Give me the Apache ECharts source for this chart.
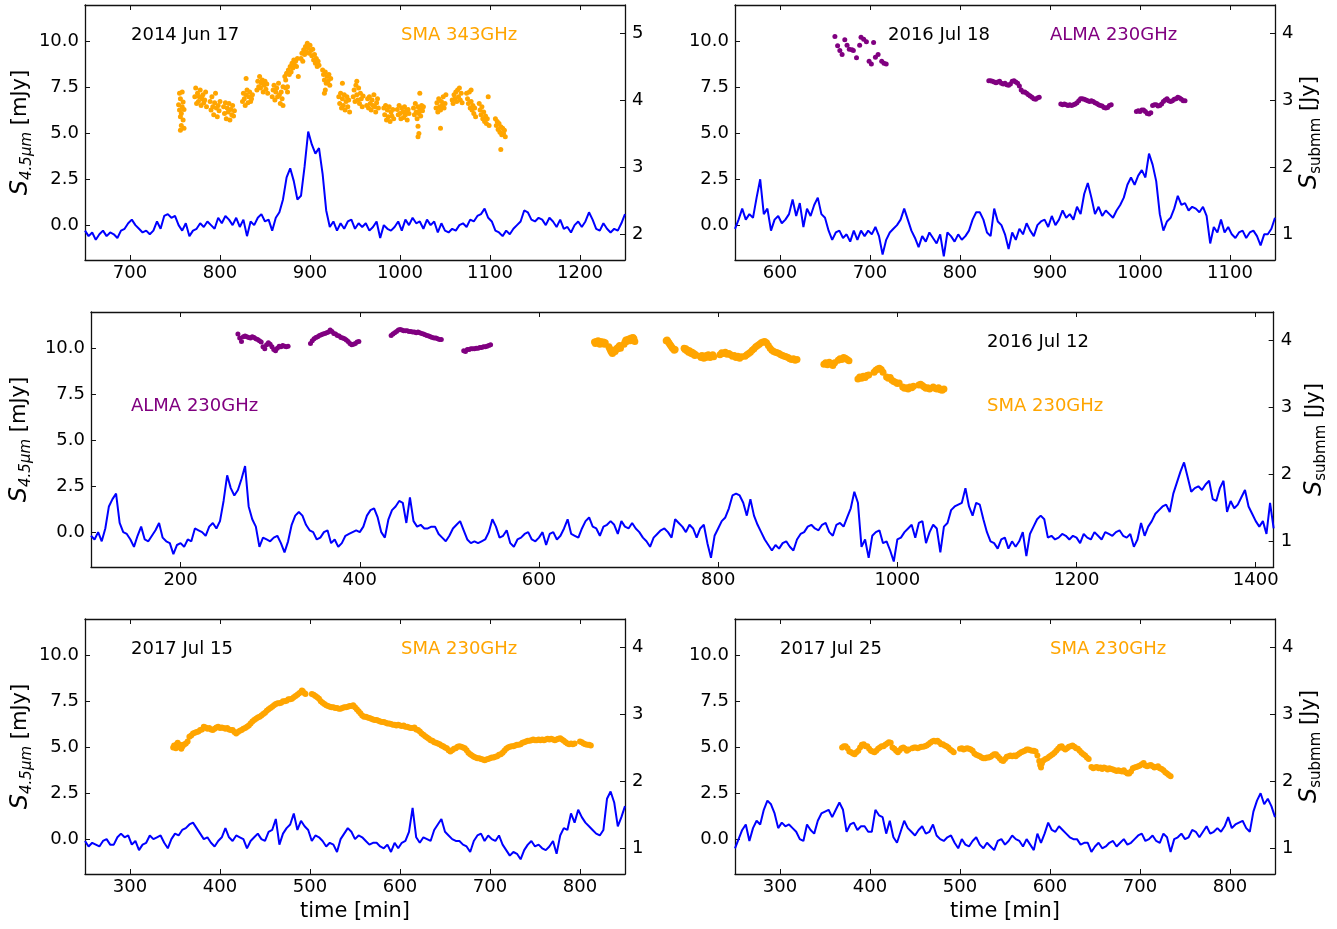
<!DOCTYPE html>
<html><head><meta charset="utf-8">
<script src="https://cdn.jsdelivr.net/npm/echarts@6/dist/echarts.min.js"></script>
<style>html,body{margin:0;padding:0;background:#fff}#c{width:1337px;height:929px}</style>
</head><body><div id="c"></div>
<script>
// ---------------- DATA ----------------
// IR (4.5 micron) light curves, mJy, regular 4-min sampling: [start, step]
const p1IrStart = 650, p1IrStep = 4;
const p1Ir = [-0.3,-0.6,-0.4,-0.8,-0.5,-0.3,-0.6,-0.4,-0.5,-0.7,
-0.3,-0.2,0.1,0.3,0.0,-0.2,-0.4,-0.3,-0.5,-0.3,
0.2,-0.2,0.5,0.6,0.4,0.5,0.0,-0.3,0.1,-0.6,
-0.3,-0.2,0.1,-0.1,0.2,0.0,-0.2,0.4,0.1,0.5,
0.3,0.0,0.4,-0.1,0.3,-0.6,0.2,0.0,0.4,0.6,
0.2,0.3,-0.3,0.4,0.7,1.4,2.6,3.1,2.4,1.4,
1.6,3.2,5.1,4.4,3.9,4.2,2.8,0.8,-0.1,0.2,
-0.3,0.1,-0.2,0.2,0.3,-0.2,0.1,-0.1,0.1,-0.3,
-0.1,0.2,-0.7,0.0,-0.2,-0.3,-0.1,0.2,-0.3,0.3,
0.0,0.4,0.1,0.2,-0.2,0.3,0.0,0.2,-0.4,0.1,
-0.3,-0.4,-0.2,-0.3,0.0,0.1,-0.1,0.3,0.2,0.5,
0.6,0.9,0.4,0.2,-0.3,-0.4,-0.6,-0.3,-0.5,-0.2,
0.0,0.2,0.8,0.7,0.3,0.2,0.4,0.3,0.0,0.4,
0.2,-0.1,0.3,-0.2,-0.1,-0.4,0.0,0.2,-0.1,0.2,
0.7,0.3,-0.2,-0.3,0.1,-0.2,-0.4,-0.2,-0.3,0.1,
0.6];

const p2IrStart = 550, p2IrStep = 4;
const p2Ir = [-0.2,0.3,0.9,0.3,0.6,0.4,1.5,2.5,0.6,0.9,
-0.3,0.3,0.5,0.1,0.3,0.6,1.4,0.5,1.2,-0.1,
0.9,0.5,1.1,1.5,0.6,0.4,-0.3,-0.8,-0.4,-0.3,
-0.7,-0.5,-0.9,-0.3,-0.8,-0.3,-0.6,-0.3,-0.5,-0.1,
-0.6,-1.6,-0.8,-0.4,-0.2,0.0,0.3,0.9,0.3,-0.3,
-0.7,-1.2,-0.6,-0.9,-0.4,-0.7,-1.0,-0.5,-1.7,-0.4,
-0.6,-0.9,-0.5,-0.8,-0.6,-0.3,0.3,0.7,0.7,0.3,
-0.4,-0.6,0.9,0.2,0.0,-0.5,-1.3,-0.4,-0.8,-0.2,
-0.5,0.1,-0.3,-0.6,0.0,0.2,0.3,-0.1,0.5,0.0,
0.3,0.8,0.4,0.6,0.3,1.0,0.6,1.7,2.3,1.5,
0.6,1.0,0.5,0.8,0.6,0.4,0.8,1.1,1.5,2.2,
2.6,2.2,2.7,3.0,2.6,3.9,3.3,2.4,0.6,-0.3,
0.2,0.4,0.9,1.6,1.1,1.2,0.8,1.0,0.9,0.7,
1.0,0.5,-1.0,-0.1,-0.4,0.3,-0.4,-0.1,-0.5,-0.7,
-0.4,-0.3,-0.7,-0.4,-0.3,-0.6,-1.1,-0.5,-0.5,-0.2,
0.4];

const p3IrStart = 100, p3IrStep = 4;
const p3Ir = [-0.2,-0.4,0.0,-0.5,0.2,1.4,1.8,2.1,0.5,0.0,
-0.1,-0.4,-0.8,-0.2,0.3,-0.4,-0.5,-0.2,0.1,0.5,
-0.3,-0.5,-0.6,-1.2,-0.7,-0.6,-0.8,-0.4,-0.5,0.2,
0.1,0.0,-0.2,0.3,0.5,0.2,0.6,1.7,3.1,2.4,
2.0,2.3,2.9,3.6,1.4,0.7,0.3,-0.8,-0.3,-0.4,
-0.5,-0.3,-0.2,-0.6,-1.1,-0.5,0.4,0.9,1.1,0.9,
0.4,0.1,0.0,-0.4,-0.3,0.0,0.1,-0.6,-0.4,-0.8,
-0.6,-0.2,-0.1,0.0,0.1,0.0,0.3,0.9,1.2,1.3,
0.8,0.0,-0.3,0.7,1.2,1.4,1.7,1.6,0.5,1.9,
0.6,0.3,0.4,0.2,0.2,0.3,0.3,-0.1,-0.3,-0.5,
-0.2,0.2,0.4,0.6,0.1,-0.4,-0.6,-0.5,-0.6,-0.5,
-0.4,0.0,0.7,0.3,-0.3,-0.2,0.1,-0.6,-0.8,-0.4,
-0.3,-0.1,0.0,-0.4,-0.5,-0.3,0.0,-0.7,-0.1,0.0,
-0.4,-0.2,0.2,0.7,-0.1,-0.2,-0.3,0.2,0.6,0.8,
0.3,0.2,-0.2,0.3,0.4,0.6,0.4,-0.1,0.6,0.3,
0.2,0.5,0.2,0.0,-0.3,-0.5,-0.8,-0.3,-0.1,0.1,
0.2,0.0,-0.3,0.7,0.5,0.3,0.0,0.4,0.2,-0.3,
0.2,0.4,-0.6,-1.4,-0.2,0.2,0.6,0.8,1.3,2.0,
2.1,2.0,1.6,0.9,1.8,0.9,0.4,0.0,-0.4,-0.7,
-1.0,-0.7,-0.9,-0.6,-0.5,-0.8,-1.0,-0.4,-0.1,0.0,
0.3,0.4,0.2,0.1,0.4,0.5,0.0,-0.2,0.4,0.5,
0.3,0.8,1.3,2.2,1.6,-0.8,-0.4,-1.4,-0.2,0.0,
0.1,-0.6,-0.5,-1.0,-1.6,-0.4,-0.3,0.0,0.2,0.4,
-0.3,0.5,0.6,-0.6,0.0,0.4,0.2,-1.1,0.3,0.5,
1.2,1.4,1.5,1.6,2.4,1.4,0.9,1.6,1.5,0.7,
0.0,-0.5,-0.6,-0.9,-0.4,-0.3,-0.9,-0.5,-0.8,-0.5,
0.0,-1.3,-0.1,0.3,0.7,0.9,0.7,-0.3,-0.2,-0.4,
-0.3,-0.1,-0.2,-0.4,-0.2,-0.3,-0.6,-0.1,-0.3,-0.4,
0.0,-0.2,-0.4,0.0,-0.1,-0.2,0.0,0.1,-0.2,-0.3,
-0.1,-0.8,-0.4,0.5,-0.2,0.3,0.6,1.0,1.2,1.4,
1.5,1.1,2.1,2.7,3.3,3.8,3.0,2.2,2.4,2.5,
2.3,2.6,2.8,1.8,1.7,2.4,2.8,1.1,1.7,1.3,
1.5,1.9,2.3,1.4,1.0,0.6,0.3,0.6,-0.1,1.6,
0.2];

const p4IrStart = 250, p4IrStep = 4;
const p4Ir = [-0.1,-0.4,-0.2,-0.3,-0.4,-0.1,0.0,-0.3,-0.3,0.1,
0.3,0.1,0.2,-0.3,-0.1,-0.6,-0.3,-0.2,0.2,0.0,
0.1,0.2,-0.2,-0.5,0.0,0.3,0.2,0.5,0.6,0.8,
0.9,0.6,0.3,0.0,0.1,-0.2,-0.4,-0.1,0.1,0.6,
0.1,-0.1,0.2,0.1,0.0,-0.5,-0.1,0.1,0.3,0.0,
-0.1,0.4,0.5,1.1,-0.3,0.3,0.6,0.8,1.4,0.5,
1.0,0.7,0.5,-0.1,0.2,0.1,-0.1,-0.4,-0.2,-0.3,
-0.7,0.0,0.3,0.6,0.4,0.0,0.2,0.1,-0.1,-0.3,
-0.2,-0.2,-0.4,-0.5,-0.3,-0.7,-0.2,-0.5,-0.2,-0.1,
0.4,1.7,0.1,-0.2,0.1,0.0,-0.1,0.5,0.8,1.1,
0.4,0.2,0.0,-0.1,-0.1,-0.3,-0.4,-0.7,-0.1,0.2,
0.3,-0.1,0.2,0.0,-0.1,0.2,-0.3,-0.6,-0.9,-0.7,
-0.8,-1.1,-0.6,-0.3,-0.1,-0.4,-0.3,-0.5,-0.6,-0.4,
-0.1,-0.8,0.2,0.6,0.5,1.4,0.9,1.6,1.2,0.9,
0.7,0.5,0.3,0.2,0.5,2.2,2.6,2.0,0.7,1.2,
1.8];

const p5IrStart = 250, p5IrStep = 4;
const p5Ir = [-0.5,0.0,0.5,0.8,-0.1,0.6,1.0,0.8,1.6,2.1,
1.9,1.4,0.6,0.9,0.7,0.8,0.6,0.4,0.0,-0.1,
0.8,0.5,0.3,1.0,1.4,1.5,1.6,1.2,1.6,2.0,
1.6,0.4,0.8,0.9,0.5,0.7,0.7,0.4,0.4,1.6,
1.3,1.2,0.3,1.0,0.1,-0.2,0.4,1.0,0.6,0.4,
0.2,0.5,0.7,0.3,0.4,0.8,0.2,0.0,-0.1,0.1,
0.2,-0.2,-0.5,0.0,-0.3,-0.4,-0.1,0.1,-0.3,-0.5,
-0.2,-0.4,-0.6,-0.1,0.0,-0.3,-0.1,0.2,0.0,-0.1,
-0.4,0.0,-0.3,-0.6,0.3,-0.2,0.3,0.9,0.5,0.4,
0.7,0.5,0.3,0.1,0.0,0.0,-0.3,-0.2,-0.2,-0.7,
-0.4,-0.2,-0.5,-0.4,-0.2,-0.1,-0.4,-0.2,0.0,-0.3,
-0.2,0.0,0.2,0.3,-0.1,0.0,0.2,-0.1,-0.2,0.3,
0.1,-0.7,0.0,0.1,0.3,0.0,0.1,0.5,0.4,0.1,
0.4,0.7,0.3,0.4,0.6,0.4,0.7,1.2,0.6,0.8,
0.9,1.0,0.6,0.4,1.5,2.1,2.5,1.9,2.2,1.8,
1.2];

// Submm fluxes, Jy: [time min, flux]
const p1Sma343 = [
[754,3.93],[755,3.85],[755,4.10],[756,3.75],[756,4.02],[757,3.80],[757,3.62],[758,3.90],[758,4.12],[759,3.70],[759,3.97],[760,3.86],[760,3.58],[756,3.55],
[772,4.05],[773,4.18],[774,3.95],[775,4.10],[776,3.98],[777,4.05],[778,4.15],[779,3.92],[780,4.02],[781,4.08],[782,3.96],[783,4.00],[784,4.12],[785,3.90],
[789,3.98],[790,3.85],[791,4.05],[792,3.90],[793,3.78],[794,3.96],[795,4.10],[796,3.88],[797,3.75],[798,3.92],[799,3.84],[800,3.98],
[804,3.90],[805,3.80],[806,3.96],[807,3.72],[808,3.88],[809,3.82],[810,3.95],[811,3.70],[812,3.86],[813,3.78],[814,3.92],[815,3.76],[816,3.84],
[825,3.98],[826,4.10],[827,4.02],[828,3.92],[829,4.08],[830,4.15],[831,3.96],[832,4.05],[833,4.12],[834,3.98],[835,4.02],[836,4.08],[829,4.32],
[841,4.15],[842,4.28],[843,4.20],[844,4.35],[845,4.18],[846,4.25],[847,4.30],[848,4.12],[849,4.22],[850,4.28],[851,4.16],[852,4.24],[853,4.10],
[858,4.05],[859,4.15],[860,4.22],[861,4.00],[862,4.12],[863,4.18],[864,4.05],[865,4.25],[866,4.08],[867,3.95],[868,4.12],[869,4.02],[870,4.20],[870,3.92],
[872,4.35],[873,4.30],[874,4.40],[875,4.20],[876,4.45],[877,4.38],[878,4.50],[879,4.42],[880,4.55],[881,4.48],[882,4.60],[883,4.52],[884,4.58],[885,4.50],[886,4.62],[873,4.18],[875,4.12],[887,4.35],
[890,4.62],[891,4.70],[892,4.58],[893,4.75],[894,4.68],[895,4.80],[896,4.72],[897,4.85],[898,4.78],[899,4.70],[900,4.82],[901,4.74],[902,4.66],[903,4.76],[904,4.60],[905,4.68],[906,4.55],[907,4.62],[908,4.50],[909,4.58],[910,4.52],
[914,4.45],[915,4.38],[916,4.30],[917,4.42],[918,4.25],[919,4.35],[920,4.28],[921,4.38],[922,4.22],[923,4.32],[917,4.15],[916,4.10],
[932,4.05],[933,3.95],[934,4.10],[935,3.88],[936,4.02],[937,3.92],[938,4.08],[939,3.85],[940,3.98],[941,4.05],[942,3.90],[943,4.00],[944,3.82],[936,4.25],
[948,4.05],[949,4.15],[950,3.98],[951,4.22],[952,4.08],[953,4.00],[954,4.18],[955,3.95],[956,4.10],[957,4.02],[958,3.90],[959,4.06],[952,4.28],
[963,3.92],[964,4.02],[965,3.88],[966,4.05],[967,3.95],[968,3.85],[969,4.00],[970,3.92],[971,4.08],[972,3.90],[973,3.82],[974,3.96],[975,4.02],[976,3.88],
[982,3.88],[983,3.78],[984,3.92],[985,3.70],[986,3.85],[987,3.75],[988,3.90],[989,3.68],[990,3.82],[991,3.76],[992,3.86],[993,3.72],
[997,3.86],[998,3.78],[999,3.92],[1000,3.80],[1001,3.72],[1002,3.88],[1003,3.82],[1004,3.74],[1005,3.90],[1006,3.78],[1007,3.84],[1008,3.70],[1009,3.86],[1010,3.80],
[1015,3.88],[1016,3.78],[1017,3.95],[1018,3.82],[1019,3.72],[1020,3.90],[1021,3.80],[1022,3.86],[1023,3.76],[1024,3.92],[1025,3.84],[1026,3.90],[1020,3.61],[1021,3.50],[1020,3.45],[1022,4.10],
[1040,3.88],[1041,3.96],[1042,3.82],[1043,4.02],[1044,3.90],[1045,3.85],[1046,3.98],[1047,3.92],[1048,4.05],[1049,3.88],[1050,3.95],[1051,4.08],[1045,3.58],
[1058,4.00],[1059,3.95],[1060,4.08],[1061,4.02],[1062,4.12],[1063,3.98],[1064,4.15],[1065,4.05],[1066,4.18],[1067,4.00],[1068,4.10],[1069,3.96],
[1074,4.10],[1075,4.02],[1076,3.95],[1077,4.12],[1078,3.88],[1079,3.98],[1080,3.85],[1081,3.92],[1082,3.80],[1083,3.88],[1084,3.75],[1079,4.15],
[1088,3.95],[1089,3.85],[1090,3.78],[1091,3.90],[1092,3.72],[1093,3.82],[1094,3.68],[1095,3.76],[1096,3.65],[1097,3.72],[1098,4.05],[1099,3.62],
[1106,3.72],[1107,3.62],[1108,3.68],[1109,3.56],[1110,3.65],[1111,3.52],[1112,3.60],[1113,3.48],[1114,3.58],[1115,3.50],[1116,3.55],[1117,3.45],[1112,3.26]];

const p2Alma = [
[661,3.95],[664,3.81],[666.5,3.74],[669,3.68],[672,3.90],[674.5,3.82],[677,3.76],[680,3.75],[681.5,3.74],[685,3.63],[688.5,3.82],[690,3.94],[693,3.91],[696,3.87],[699,3.58],[701.5,3.54],[704,3.86],[706,3.64],[709,3.68],[713,3.58],[715.5,3.55],[718,3.54],
[832,3.29],[834,3.29],[836,3.28],[838,3.27],[840,3.26],[842,3.27],[844,3.28],[846,3.25],[848,3.24],[850,3.25],[852,3.23],[854,3.22],[856,3.24],[858,3.28],[860,3.29],[862,3.27],[864,3.25],[866,3.21],[868,3.15],[870,3.12],[872,3.12],[874,3.10],[876,3.08],[878,3.06],[880,3.04],[882,3.02],[884,3.01],[886,3.03],[888,3.04],
[912,2.94],[914,2.93],[916,2.94],[918,2.93],[920,2.92],[922,2.93],[924,2.92],[926,2.93],[928,2.94],[930,2.96],[932,2.99],[934,3.02],[936,3.02],[938,3.01],[940,3.00],[942,2.99],[944,2.98],[946,2.99],[948,2.98],[950,2.96],[952,2.95],[954,2.93],[956,2.92],[958,2.91],[960,2.89],[962,2.88],[964,2.89],[966,2.92],[968,2.93],
[996,2.83],[998,2.84],[1000,2.83],[1002,2.85],[1004,2.85],[1006,2.83],[1008,2.80],[1010,2.79],[1012,2.81],[1014,2.92],[1016,2.93],[1018,2.93],[1020,2.91],[1022,2.92],[1024,2.94],[1026,2.98],[1028,3.00],[1030,3.02],[1032,2.99],[1034,2.98],[1036,2.99],[1038,3.01],[1040,3.02],[1042,3.04],[1044,3.03],[1046,3.01],[1048,2.99],[1050,2.99]];

const p3Alma = [
[264,4.09],[266,4.03],[268,3.98],[270,4.05],[272,4.06],[274,4.05],[276,4.04],[278,4.03],[280,4.05],[282,4.04],[284,4.02],[286,4.01],[288,3.99],[290,3.97],[292,3.90],[294,3.87],[296,3.93],[298,3.96],[300,3.94],[302,3.90],[304,3.86],[306,3.84],[308,3.88],[310,3.91],[312,3.90],[314,3.92],[316,3.91],[318,3.90],[320,3.91],
[345,3.95],[347,3.99],[349,4.02],[351,4.04],[353,4.05],[355,4.07],[357,4.08],[359,4.09],[361,4.10],[363,4.11],[365,4.12],[367,4.15],[369,4.13],[371,4.10],[373,4.09],[375,4.07],[377,4.06],[379,4.04],[381,4.03],[383,4.02],[385,4.00],[387,3.98],[389,3.95],[391,3.93],[393,3.94],[395,3.95],[397,3.97],[399,3.98],
[435,4.07],[437,4.09],[439,4.11],[441,4.13],[443,4.15],[445,4.16],[447,4.15],[449,4.14],[451,4.14],[453,4.14],[455,4.13],[457,4.13],[459,4.12],[461,4.12],[463,4.11],[465,4.12],[467,4.11],[469,4.10],[471,4.09],[473,4.08],[475,4.07],[477,4.06],[479,4.05],[481,4.04],[483,4.03],[485,4.03],[487,4.02],[489,4.01],[491,4.01],
[516,3.84],[518,3.83],[520,3.86],[522,3.86],[524,3.87],[526,3.87],[528,3.87],[530,3.88],[532,3.88],[534,3.89],[536,3.89],[538,3.90],[540,3.90],[542,3.91],[544,3.92],[546,3.93]];

const p3Sma = [
[662,3.97],[663,3.95],[664,3.98],[665,3.96],[666,3.99],[667,3.97],[668,3.94],[669,3.98],[670,3.96],[671,3.95],[672,3.97],[673,3.94],[674,3.96],
[678,3.90],[679,3.87],[680,3.84],[681,3.82],[682,3.80],[683,3.82],[684,3.85],[685,3.83],[686,3.86],[687,3.88],[688,3.87],[689,3.90],[690,3.92],[691,3.88],
[695,3.94],[696,3.97],[697,4.00],[698,3.98],[699,4.01],[700,4.00],[701,4.02],[702,3.99],[703,4.03],[704,4.01],[705,4.04],[706,4.02],[707,3.98],
[742,3.99],[743,4.00],[744,3.98],[745,3.96],[746,3.94],[747,3.92],[748,3.90],[749,3.88],[750,3.87],[751,3.85],[752,3.86],
[762,3.88],[763,3.86],[764,3.87],[765,3.84],[766,3.85],[767,3.82],[768,3.84],[769,3.81],[770,3.80],[771,3.82],[772,3.79],[773,3.80],[774,3.77],[775,3.78],
[780,3.76],[781,3.74],[782,3.77],[783,3.75],[784,3.73],[785,3.76],[786,3.74],[787,3.77],[788,3.75],[789,3.78],[790,3.76],[791,3.74],[792,3.77],[793,3.76],[794,3.78],[795,3.75],
[802,3.78],[804,3.81],[806,3.80],[808,3.82],[810,3.79],[812,3.80],[814,3.78],[816,3.76],[818,3.77],[820,3.74],[822,3.76],[824,3.73],[826,3.75],
[830,3.76],[832,3.78],[834,3.80],[836,3.82],[838,3.85],[840,3.87],[842,3.90],[844,3.92],[846,3.94],[848,3.96],[850,3.97],[852,3.98],[854,3.96],[856,3.92],[858,3.88],[860,3.85],[862,3.83],[864,3.82],[866,3.81],[868,3.80],[870,3.78],[872,3.77],[874,3.76],[876,3.75],[878,3.74],[880,3.72],[882,3.71],[884,3.72],[886,3.70],[888,3.71],
[918,3.64],[920,3.66],[922,3.63],[924,3.67],[926,3.65],[928,3.62],[930,3.66],[934,3.70],[936,3.72],[938,3.71],[940,3.74],[942,3.73],[944,3.71],[946,3.69],
[956,3.42],[958,3.45],[960,3.43],[962,3.46],[964,3.44],[966,3.47],[968,3.48],
[974,3.52],[976,3.55],[978,3.57],[980,3.58],[982,3.56],[984,3.52],
[988,3.45],[990,3.43],[992,3.44],[994,3.40],[996,3.38],[998,3.37],[1000,3.35],[1002,3.36],
[1006,3.30],[1008,3.28],[1010,3.29],[1012,3.27],[1014,3.30],[1016,3.29],[1018,3.31],
[1024,3.33],[1026,3.34],[1028,3.32],[1030,3.30],[1032,3.28],[1034,3.29],[1036,3.27],
[1040,3.30],[1042,3.28],[1044,3.27],[1046,3.29],[1048,3.26],[1050,3.25],[1052,3.27]];

const p4Sma = [
[348,2.50],[349,2.53],[350,2.52],[351,2.49],[352,2.55],[353,2.57],[354,2.52],[355,2.54],[356,2.50],[357,2.48],[358,2.51],[359,2.54],[360,2.54],[362,2.56],[364,2.59],[366,2.66],[368,2.68],[370,2.71],[372,2.72],[374,2.73],[376,2.74],[378,2.76],[380,2.77],[382,2.81],[384,2.80],[386,2.78],[388,2.79],[390,2.77],[392,2.76],[394,2.78],[396,2.80],[398,2.81],[400,2.79],[402,2.80],[404,2.79],[406,2.78],[408,2.79],[410,2.77],[412,2.76],[414,2.76],[416,2.73],[418,2.71],[420,2.73],[422,2.75],[424,2.76],[426,2.78],[428,2.79],[430,2.81],[432,2.83],[434,2.86],[436,2.89],[438,2.91],[440,2.93],[442,2.95],[444,2.96],[446,2.98],[448,3.00],[450,3.02],[452,3.05],[454,3.07],[456,3.09],[458,3.11],[460,3.13],[462,3.15],[464,3.16],[466,3.16],[468,3.17],[470,3.19],[472,3.19],[474,3.20],[476,3.22],[478,3.22],[480,3.23],[482,3.25],[484,3.27],[486,3.29],[488,3.31],[490,3.33],[491,3.35],[492,3.34],[494,3.31],[495,3.30],
[502,3.30],[504,3.29],[506,3.27],[508,3.25],[510,3.23],[512,3.19],[514,3.17],[516,3.15],[518,3.13],[520,3.12],[522,3.11],[524,3.10],[526,3.10],[528,3.09],[530,3.09],[532,3.08],[534,3.08],[536,3.09],[538,3.10],[540,3.10],[542,3.11],[544,3.12],[546,3.12],[548,3.13],[550,3.10],[552,3.07],[554,3.04],[556,3.01],[558,2.98],[560,2.96],[562,2.96],[564,2.95],[566,2.94],[568,2.93],[570,2.92],[572,2.91],[574,2.91],[576,2.90],[578,2.89],[580,2.88],[582,2.88],[584,2.87],[586,2.86],[588,2.86],[590,2.85],[592,2.84],[594,2.84],[596,2.83],[598,2.84],[600,2.83],[602,2.82],[604,2.83],[606,2.81],[608,2.81],[610,2.80],[612,2.79],[614,2.79],[616,2.80],[618,2.77],[620,2.76],[622,2.74],[624,2.71],[626,2.69],[628,2.67],[630,2.65],[632,2.63],[634,2.61],[636,2.60],[638,2.58],[640,2.57],[642,2.56],[644,2.55],[646,2.53],[648,2.52],[650,2.50],[652,2.49],[654,2.46],[656,2.44],[658,2.46],[660,2.48],[662,2.49],[664,2.51],[666,2.52],[668,2.51],[670,2.50],[672,2.49],[674,2.46],[676,2.42],[678,2.40],[680,2.38],[682,2.36],[684,2.35],[686,2.34],[688,2.34],[690,2.33],[692,2.32],[694,2.31],[696,2.32],[698,2.33],[700,2.34],[702,2.35],[704,2.35],[706,2.36],[708,2.37],[710,2.39],[712,2.40],[714,2.42],[716,2.45],[718,2.48],[720,2.50],[722,2.51],[724,2.52],[726,2.52],[728,2.53],[730,2.54],[732,2.54],[734,2.55],[736,2.57],[738,2.58],[740,2.59],[742,2.60],[744,2.60],[746,2.61],[748,2.62],[750,2.61],[752,2.61],[754,2.62],[756,2.61],[758,2.62],[760,2.61],[762,2.62],[764,2.63],[766,2.62],[768,2.63],[770,2.62],[772,2.61],[774,2.62],[776,2.63],[778,2.64],[780,2.62],[782,2.60],[784,2.58],[786,2.56],[788,2.55],[790,2.56],[792,2.55],[794,2.56],
[800,2.59],[802,2.58],[804,2.56],[806,2.55],[808,2.54],[810,2.54],[812,2.53]];

const p5Sma = [
[369,2.50],[371,2.52],[373,2.52],[375,2.49],[377,2.44],[379,2.43],[381,2.41],[383,2.40],[385,2.43],[387,2.45],[389,2.50],[391,2.54],[393,2.55],[395,2.52],[397,2.52],[399,2.48],[401,2.45],[403,2.44],[405,2.43],[407,2.45],[409,2.48],[411,2.50],[413,2.52],[415,2.52],[417,2.54],[419,2.56],[421,2.58],[423,2.57],[425,2.50],[427,2.48],[429,2.45],[431,2.43],[433,2.46],[435,2.49],[437,2.50],[439,2.48],[441,2.45],[443,2.47],
[447,2.49],[449,2.50],[451,2.50],[453,2.49],[455,2.50],[457,2.51],[459,2.51],[461,2.52],[463,2.53],[465,2.55],[467,2.57],[469,2.59],[471,2.60],[473,2.59],[475,2.60],[477,2.58],[479,2.55],[481,2.55],[483,2.53],[485,2.52],[487,2.50],[489,2.47],[491,2.45],[493,2.43],
[500,2.48],[502,2.49],[504,2.47],[506,2.48],[508,2.49],[510,2.48],[512,2.47],[514,2.45],[516,2.41],[518,2.39],[520,2.38],[522,2.37],[524,2.35],[526,2.34],[528,2.34],[530,2.35],[532,2.35],[534,2.36],[536,2.38],[538,2.40],[540,2.40],[542,2.37],[544,2.34],[546,2.31],[548,2.30],[550,2.33],[552,2.36],[554,2.37],[556,2.38],[558,2.37],[560,2.38],[562,2.37],[564,2.39],[566,2.41],[568,2.43],[570,2.44],[572,2.45],[574,2.47],[576,2.47],[578,2.46],[580,2.45],[582,2.45],[584,2.44],[586,2.38],[588,2.30],[589,2.24],[590,2.20],[591,2.26],[593,2.31],[595,2.33],[597,2.34],[599,2.36],[601,2.38],[603,2.40],[605,2.42],[607,2.45],[609,2.48],[611,2.51],[613,2.52],[615,2.49],[617,2.47],[619,2.49],[621,2.51],[623,2.52],[625,2.53],[627,2.51],[629,2.49],[631,2.48],[633,2.45],[635,2.42],[637,2.40],[639,2.38],[641,2.35],[643,2.33],
[646,2.21],[648,2.19],[650,2.20],[652,2.21],[654,2.19],[656,2.20],[658,2.18],[660,2.20],[662,2.19],[664,2.17],[666,2.19],[668,2.18],[670,2.17],[672,2.16],[674,2.15],[676,2.16],[678,2.15],[680,2.14],[682,2.16],[684,2.13],[686,2.11],[688,2.11],[690,2.14],[692,2.19],[694,2.20],[696,2.21],[698,2.22],[700,2.23],[702,2.25],[704,2.27],[706,2.23],[708,2.22],[710,2.23],[712,2.24],[714,2.22],[716,2.20],[718,2.21],[720,2.22],[722,2.19],[724,2.18],[726,2.16],[728,2.13],[730,2.11],[732,2.09],[734,2.07]];

// Axis ranges and tick labels
const xRanges = [[650,1250],[550,1150],[100,1420],[250,850],[250,850]];
const xTicks = [[700,800,900,1000,1100,1200],[600,700,800,900,1000,1100],[200,400,600,800,1000,1200,1400],[300,400,500,600,700,800],[300,400,500,600,700,800]];
const irRange = [-1.9,12];
const irTicks = [0,2.5,5,7.5,10];
const submmRanges = [[1.61,5.42],[0.61,4.42],[0.61,4.42],[0.61,4.42],[0.61,4.42]];
const submmTicks = [[2,3,4,5],[1,2,3,4],[1,2,3,4],[1,2,3,4],[1,2,3,4]];
const dateLabels = ['2014 Jun 17','2016 Jul 18','2016 Jul 12','2017 Jul 15','2017 Jul 25'];

// ---------------- CHART ----------------
const FONT = '"DejaVu Sans", sans-serif';
const ORANGE = '#ffa500', PURPLE = '#800080', BLUE = '#0000ff';
const grids = [
  {left:85, top:5, width:540, height:255},
  {left:735, top:5, width:540, height:255},
  {left:85, top:312, width:1190, height:255},
  {left:85, top:619, width:540, height:255},
  {left:735, top:619, width:540, height:255}
];
const showLeftName = [true,false,true,true,false];
const showRightName = [false,true,true,false,true];
const showXName = [false,false,false,true,true];

function seq(start, step, vals){ return vals.map((v,i)=>[start+i*step, v]); }
const lineStyleAx = {color:'#111', width:1.3};
const xAxis = [], yAxis = [];
grids.forEach((g,gi)=>{
  xAxis.push({type:'value', gridIndex:gi, position:'bottom', min:xRanges[gi][0], max:xRanges[gi][1],
    axisLine:{show:true, onZero:false, lineStyle:lineStyleAx},
    axisTick:{show:true, inside:true, length:5, customValues:xTicks[gi], lineStyle:{color:'#111', width:1}},
    axisLabel:{show:true, customValues:xTicks[gi], color:'#000', fontSize:18, fontFamily:FONT, margin:4,
      formatter:v=>String(v)},
    splitLine:{show:false},
    name: showXName[gi] ? 'time [min]' : '', nameLocation:'middle', nameGap:27,
    nameTextStyle:{color:'#000', fontSize:21, fontFamily:FONT}});
  xAxis.push({type:'value', gridIndex:gi, position:'top', min:xRanges[gi][0], max:xRanges[gi][1],
    axisLine:{show:true, onZero:false, lineStyle:lineStyleAx},
    axisTick:{show:true, inside:true, length:5, customValues:xTicks[gi], lineStyle:{color:'#111', width:1}},
    axisLabel:{show:false}, splitLine:{show:false}});
  yAxis.push({type:'value', gridIndex:gi, position:'left', min:irRange[0], max:irRange[1],
    axisLine:{show:true, onZero:false, lineStyle:lineStyleAx},
    axisTick:{show:true, inside:true, length:5, customValues:irTicks, lineStyle:{color:'#111', width:1}},
    axisLabel:{show:true, customValues:irTicks, color:'#000', fontSize:18, fontFamily:FONT, margin:6,
      formatter:v=>Number(v).toFixed(1)},
    splitLine:{show:false},
    name: showLeftName[gi] ? '{s|S}{sub|4.5μm}{n| [mJy]}' : '', nameLocation:'middle', nameGap:50, nameRotate:90,
    nameTextStyle:{color:'#000', fontFamily:FONT, rich:{
      s:{fontSize:24, fontStyle:'italic', fontFamily:FONT, color:'#000', lineHeight:28, verticalAlign:'middle'},
      sub:{fontSize:15, fontStyle:'italic', fontFamily:FONT, color:'#000', lineHeight:16, verticalAlign:'bottom'},
      n:{fontSize:21, fontFamily:FONT, color:'#000', lineHeight:28, verticalAlign:'middle'}}}});
  yAxis.push({type:'value', gridIndex:gi, position:'right', min:submmRanges[gi][0], max:submmRanges[gi][1],
    axisLine:{show:true, onZero:false, lineStyle:lineStyleAx},
    axisTick:{show:true, inside:true, length:5, customValues:submmTicks[gi], lineStyle:{color:'#111', width:1}},
    axisLabel:{show:true, customValues:submmTicks[gi], color:'#000', fontSize:18, fontFamily:FONT, margin:7},
    splitLine:{show:false},
    name: showRightName[gi] ? '{s|S}{sub|submm}{n| [Jy]}' : '', nameLocation:'middle', nameGap:20, nameRotate:90,
    nameTextStyle:{color:'#000', fontFamily:FONT, rich:{
      s:{fontSize:24, fontStyle:'italic', fontFamily:FONT, color:'#000', lineHeight:28, verticalAlign:'middle'},
      sub:{fontSize:15, fontFamily:FONT, color:'#000', lineHeight:16, verticalAlign:'bottom'},
      n:{fontSize:21, fontFamily:FONT, color:'#000', lineHeight:28, verticalAlign:'middle'}}}});
});

const irData = [seq(p1IrStart,p1IrStep,p1Ir), seq(p2IrStart,p2IrStep,p2Ir), seq(p3IrStart,p3IrStep,p3Ir),
                seq(p4IrStart,p4IrStep,p4Ir), seq(p5IrStart,p5IrStep,p5Ir)];
const series = [];
irData.forEach((d,gi)=>{
  series.push({type:'line', xAxisIndex:2*gi, yAxisIndex:2*gi, data:d, symbol:'none', showSymbol:false,
    lineStyle:{color:BLUE, width:2}, z:3});
});
function sc(gi, data, color, size){
  series.push({type:'scatter', xAxisIndex:2*gi, yAxisIndex:2*gi+1, data:data, symbolSize:size,
    itemStyle:{color:color, opacity:1}, z:4});
}
sc(0, p1Sma343, ORANGE, 5);
sc(1, p2Alma, PURPLE, 5);
sc(2, p3Alma, PURPLE, 5);
sc(2, p3Sma, ORANGE, 7);
sc(3, p4Sma, ORANGE, 6);
sc(4, p5Sma, ORANGE, 6);

function txt(x, y, s, color){
  return {type:'text', x:x, y:y, style:{text:s, fill:color, font:'18px "DejaVu Sans"', textVerticalAlign:'middle', textAlign:'left'}, z:10};
}
const graphic = [
  txt(131,35,dateLabels[0],'#000'), txt(401,35,'SMA 343GHz',ORANGE),
  txt(888,35,dateLabels[1],'#000'), txt(1050,35,'ALMA 230GHz',PURPLE),
  txt(987,342,dateLabels[2],'#000'), txt(131,406,'ALMA 230GHz',PURPLE), txt(987,406,'SMA 230GHz',ORANGE),
  txt(131,649,dateLabels[3],'#000'), txt(401,649,'SMA 230GHz',ORANGE),
  txt(780,649,dateLabels[4],'#000'), txt(1050,649,'SMA 230GHz',ORANGE)
];

const chart = echarts.init(document.getElementById('c'), null, {renderer:'canvas'});
chart.setOption({animation:false, backgroundColor:'#fff', grid:grids, xAxis:xAxis, yAxis:yAxis, series:series, graphic:graphic});
</script></body></html>
